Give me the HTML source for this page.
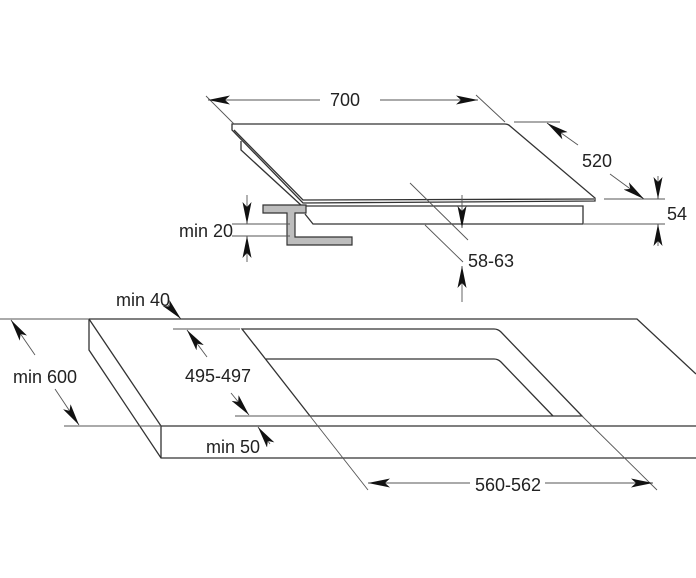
<!DOCTYPE html>
<html><head><meta charset="utf-8"><style>
html,body{margin:0;padding:0;background:#fff;}
svg{display:block;}
text{font-family:"Liberation Sans Narrow","Liberation Sans",sans-serif;font-size:18px;fill:#222;}
</style></head><body>
<svg width="696" height="578" viewBox="0 0 696 578" xmlns="http://www.w3.org/2000/svg">
<defs>
<marker id="a" viewBox="0 0 22 9" refX="22" refY="4.5" markerWidth="22" markerHeight="9" markerUnits="userSpaceOnUse" orient="auto-start-reverse">
<path d="M0,0 L22,4.5 L0,9 L5,4.5 Z" fill="#111"/></marker>
</defs>
<g fill="none" stroke="#333" stroke-width="1.3">
<path d="M232,124 L505,124 Q508,124 510,126 L595,198 L595,201 L303,203 L232,130 Z"/>
<path d="M234,130 L303,200 L594,199"/>
<path d="M241,141 L241,150 L302,206"/>
<path d="M302,206 L583,206 L583,224 L313,224 L305,214"/>
</g>
<path d="M263,205 L306,205 L306,213 L295,213 L295,237 L352,237 L352,245 L287,245 L287,213 L263,213 Z" fill="#bdbdbd" stroke="#333" stroke-width="1.2"/>
<g fill="none" stroke="#555" stroke-width="0.9">
<line x1="206" y1="96" x2="234" y2="124"/>
<line x1="476" y1="95" x2="505" y2="122"/>
<line x1="320" y1="100" x2="208" y2="100" marker-end="url(#a)"/>
<line x1="380" y1="100" x2="478" y2="100" marker-end="url(#a)"/>
<line x1="514" y1="122" x2="560" y2="122"/>
<line x1="578" y1="145" x2="547" y2="123" marker-end="url(#a)"/>
<line x1="610" y1="174" x2="644" y2="199" marker-end="url(#a)"/>
<line x1="604" y1="199" x2="665" y2="199"/>
<line x1="584" y1="224" x2="665" y2="224"/>
<line x1="658" y1="176" x2="658" y2="199" marker-end="url(#a)"/>
<line x1="658" y1="246" x2="658" y2="224" marker-end="url(#a)"/>
<line x1="232" y1="224" x2="290" y2="224"/>
<line x1="232" y1="236" x2="290" y2="236"/>
<line x1="247" y1="195" x2="247" y2="224" marker-end="url(#a)"/>
<line x1="247" y1="262" x2="247" y2="236" marker-end="url(#a)"/>
<line x1="410" y1="183" x2="468" y2="240"/>
<line x1="425" y1="225" x2="463" y2="262"/>
<line x1="462" y1="195" x2="462" y2="228" marker-end="url(#a)"/>
<line x1="462" y1="302" x2="462" y2="266" marker-end="url(#a)"/>
</g>
<g font-size="18">
<text x="345" y="106" text-anchor="middle">700</text>
<text x="597" y="167" text-anchor="middle">520</text>
<text x="667" y="220">54</text>
<text x="233" y="237" text-anchor="end">min 20</text>
<text x="468" y="267">58-63</text>
</g>
<g fill="none" stroke="#333" stroke-width="1.3">
<path d="M89,319 L637,319 L696,374"/>
<path d="M89,319 L161,426 L696,426"/>
<path d="M89,319 L89,350 L161,458 L696,458"/>
<line x1="161" y1="426" x2="161" y2="458"/>
<path d="M242,329 L494,329 Q498,329 501,332 L582,416 L310,416 Z"/>
<path d="M266,359 L494,359 Q498,359 501,362 L553,416"/>
</g>
<g fill="none" stroke="#555" stroke-width="0.9">
<line x1="310" y1="416" x2="368" y2="490"/>
<line x1="582" y1="416" x2="657" y2="490"/>
<line x1="470" y1="483" x2="368" y2="483" marker-end="url(#a)"/>
<line x1="545" y1="483" x2="653" y2="483" marker-end="url(#a)"/>
<line x1="173" y1="329" x2="240" y2="329"/>
<line x1="235" y1="416" x2="310" y2="416"/>
<line x1="207" y1="357" x2="187" y2="330" marker-end="url(#a)"/>
<line x1="231" y1="393" x2="249" y2="415" marker-end="url(#a)"/>
<line x1="0" y1="319" x2="89" y2="319"/>
<line x1="64" y1="426" x2="161" y2="426"/>
<line x1="35" y1="355" x2="11" y2="320" marker-end="url(#a)"/>
<line x1="55" y1="389" x2="79" y2="425" marker-end="url(#a)"/>
<line x1="168" y1="305" x2="181" y2="319" marker-end="url(#a)"/>
<line x1="270" y1="444" x2="258" y2="427" marker-end="url(#a)"/>
</g>
<g font-size="18">
<text x="143" y="306" text-anchor="middle">min 40</text>
<text x="45" y="383" text-anchor="middle">min 600</text>
<text x="218" y="382" text-anchor="middle">495-497</text>
<text x="233" y="453" text-anchor="middle">min 50</text>
<text x="508" y="491" text-anchor="middle">560-562</text>
</g>
</svg>
</body></html>
